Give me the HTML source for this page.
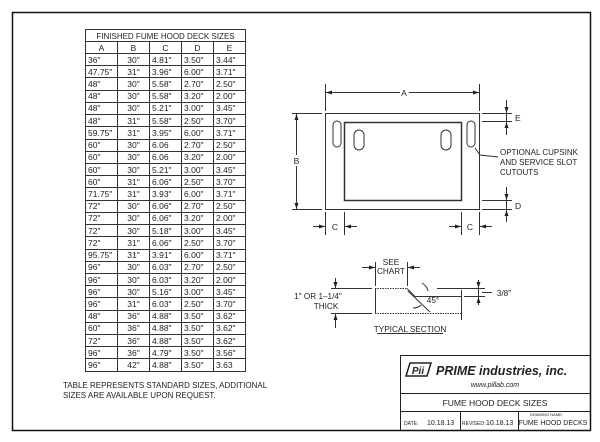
<!DOCTYPE html>
<html><head><style>
body{margin:0;background:#fff}
svg text{font-family:"Liberation Sans",sans-serif;fill:#222}
#t{position:absolute;left:85px;top:41px;border-collapse:collapse;font-family:"Liberation Sans",sans-serif;font-size:8.5px;color:#222;table-layout:fixed;width:161px}
#t td{border:1px solid #333;height:12.23px;padding:0 0 0 2px;line-height:10px;width:31px;overflow:hidden;white-space:nowrap;box-sizing:border-box}
#t td:nth-child(2){text-align:center;padding:0}
#t tr:first-child td{text-align:center;padding:0;height:12px}
</style></head><body>
<svg width="600" height="442" viewBox="0 0 600 442" xmlns="http://www.w3.org/2000/svg" style="position:absolute;left:0;top:0">
<rect x="12.5" y="12.5" width="578" height="418" fill="none" stroke="#111" stroke-width="1.5"/>
<rect x="85.5" y="29.5" width="160" height="342" fill="none" stroke="#333"/>
<text x="165.5" y="39" font-size="8" text-anchor="middle">FINISHED  FUME  HOOD  DECK  SIZES</text>
<g stroke="#333" stroke-width="1" fill="none">
<rect x="325.5" y="113.5" width="154" height="96"/>
<rect x="344.5" y="122.5" width="117" height="78" stroke-width="1.5"/>
<rect x="333" y="121" width="8" height="26" rx="4"/>
<rect x="467" y="121" width="8" height="26" rx="4"/>
<rect x="354" y="130" width="10" height="20" rx="5"/>
<rect x="441" y="130" width="10" height="20" rx="5"/>
<line x1="325.5" y1="84" x2="325.5" y2="111"/><line x1="479.5" y1="84" x2="479.5" y2="111"/>
<line x1="326" y1="92.5" x2="400" y2="92.5"/><line x1="409" y1="92.5" x2="479" y2="92.5"/>
<line x1="292" y1="113.5" x2="322" y2="113.5"/><line x1="292" y1="209.5" x2="322" y2="209.5"/>
<line x1="296.5" y1="114" x2="296.5" y2="155"/><line x1="296.5" y1="166" x2="296.5" y2="209"/>
<line x1="482" y1="113.5" x2="512" y2="113.5"/><line x1="482" y1="121.5" x2="512" y2="121.5"/>
<line x1="506.5" y1="100" x2="506.5" y2="135"/>
<line x1="482" y1="200.5" x2="512" y2="200.5"/><line x1="482" y1="209.5" x2="512" y2="209.5"/>
<line x1="506.5" y1="187" x2="506.5" y2="222"/>
<line x1="325.5" y1="212" x2="325.5" y2="235"/><line x1="344.5" y1="212" x2="344.5" y2="235"/>
<line x1="461.5" y1="212" x2="461.5" y2="235"/><line x1="479.5" y1="212" x2="479.5" y2="235"/>
<line x1="313" y1="226.5" x2="325" y2="226.5"/><line x1="345" y1="226.5" x2="357" y2="226.5"/>
<line x1="449" y1="226.5" x2="461" y2="226.5"/><line x1="480" y1="226.5" x2="492" y2="226.5"/>
<polyline points="475,148 480,155 498,157"/>
</g>
<g fill="#222">
<polygon points="326,92.5 332,90.5 332,94.5"/><polygon points="479,92.5 473,90.5 473,94.5"/>
<polygon points="296.5,114 294.5,120 298.5,120"/><polygon points="296.5,209 294.5,203 298.5,203"/>
<polygon points="506.5,113 504.5,107 508.5,107"/><polygon points="506.5,122 504.5,128 508.5,128"/>
<polygon points="506.5,200 504.5,194 508.5,194"/><polygon points="506.5,210 504.5,216 508.5,216"/>
<polygon points="325,226.5 319,224.5 319,228.5"/><polygon points="345,226.5 351,224.5 351,228.5"/>
<polygon points="461,226.5 455,224.5 455,228.5"/><polygon points="480,226.5 486,224.5 486,228.5"/>
</g>
<g font-size="8.5">
<text x="404" y="96" text-anchor="middle">A</text>
<text x="296.5" y="164" text-anchor="middle">B</text>
<text x="515" y="121">E</text>
<text x="515" y="209">D</text>
<text x="335" y="230" text-anchor="middle">C</text>
<text x="470" y="230" text-anchor="middle">C</text>
<text x="500" y="155" font-size="8">OPTIONAL  CUPSINK</text>
<text x="500" y="165" font-size="8">AND  SERVICE  SLOT</text>
<text x="500" y="175" font-size="8">CUTOUTS</text>
</g>
<g stroke="#333" stroke-width="1" fill="none">
<line x1="375.5" y1="288" x2="375.5" y2="313"/>
<line x1="375" y1="288.5" x2="407" y2="288.5" stroke-dasharray="1.5,1"/>
<line x1="407" y1="288.5" x2="415" y2="296.5"/>
<line x1="415" y1="296.5" x2="462" y2="296.5"/>
<line x1="375" y1="313.5" x2="462" y2="313.5" stroke-dasharray="1.5,1"/>
<line x1="408" y1="291" x2="430" y2="312"/>
<line x1="461.5" y1="290" x2="461.5" y2="320"/>
<line x1="375.5" y1="262" x2="375.5" y2="286"/><line x1="407.5" y1="262" x2="407.5" y2="286"/>
<line x1="362" y1="267.5" x2="375" y2="267.5"/><line x1="408" y1="267.5" x2="420" y2="267.5"/>
<line x1="331" y1="288.5" x2="372" y2="288.5"/><line x1="331" y1="313.5" x2="372" y2="313.5"/>
<line x1="335.5" y1="278" x2="335.5" y2="288"/><line x1="335.5" y1="314" x2="335.5" y2="328"/>
<line x1="437" y1="288.5" x2="485" y2="288.5"/><line x1="464" y1="296.5" x2="485" y2="296.5"/>
<line x1="478.5" y1="280" x2="478.5" y2="305"/><line x1="482" y1="292.5" x2="492" y2="292.5"/>
<path d="M422,283 Q427,286 428,291"/><path d="M413,308 Q418,308 421,305"/>
<line x1="377" y1="333.5" x2="443" y2="333.5"/>
</g>
<g fill="#222">
<polygon points="375,267.5 369,265.5 369,269.5"/><polygon points="408,267.5 414,265.5 414,269.5"/>
<polygon points="335.5,288 333.5,282 337.5,282"/><polygon points="335.5,314 333.5,320 337.5,320"/>
<polygon points="478.5,288 476.5,282 480.5,282"/><polygon points="478.5,297 476.5,303 480.5,303"/>
</g>
<g font-size="8.2" text-anchor="middle">
<text x="391" y="265">SEE</text><text x="391" y="274">CHART</text>
<text x="318" y="299">1"  OR  1–1/4"</text><text x="326" y="309">THICK</text>
<text x="433" y="303">45°</text>
<text x="504" y="296">3/8"</text>
<text x="410" y="332">TYPICAL  SECTION</text>
</g>
<text x="63" y="388" font-size="8">TABLE  REPRESENTS  STANDARD  SIZES,  ADDITIONAL</text>
<text x="63" y="398" font-size="8">SIZES  ARE  AVAILABLE  UPON  REQUEST.</text>
<g stroke="#222" stroke-width="1" fill="none">
<polyline points="400.5,430 400.5,355.5 590,355.5"/>
<line x1="400" y1="393.5" x2="590" y2="393.5"/>
<line x1="400" y1="411.5" x2="590" y2="411.5"/>
<line x1="460.5" y1="411" x2="460.5" y2="430"/>
<line x1="518.5" y1="411" x2="518.5" y2="430"/>
</g>
<polygon points="406,376 410,363 431,363 427,376" fill="#fff" stroke="#222" stroke-width="1.5"/>
<text x="418" y="374" font-size="10" font-weight="bold" font-style="italic" text-anchor="middle">Pii</text>
<text x="436" y="375" font-size="12.5" font-weight="bold" font-style="italic">PRIME industries, inc.</text>
<text x="495" y="387" font-size="7" font-style="italic" text-anchor="middle">www.pillab.com</text>
<text x="495" y="406" font-size="8.5" text-anchor="middle">FUME  HOOD  DECK  SIZES</text>
<text x="404" y="425" font-size="5">DATE:</text>
<text x="427" y="425" font-size="7">10.18.13</text>
<text x="462" y="425" font-size="5">REVISED:</text>
<text x="486" y="425" font-size="7">10.18.13</text>
<text x="530" y="416" font-size="4">DRAWING NAME:</text>
<text x="553" y="425" font-size="7" text-anchor="middle">FUME  HOOD  DECKS</text>
</svg>
<table id="t">
<tr><td>A</td><td>B</td><td>C</td><td>D</td><td>E</td></tr>
<tr><td>36"</td><td>30"</td><td>4.81"</td><td>3.50"</td><td>3.44"</td></tr>
<tr><td>47.75"</td><td>31"</td><td>3.96"</td><td>6.00"</td><td>3.71"</td></tr>
<tr><td>48"</td><td>30"</td><td>5.58"</td><td>2.70"</td><td>2.50"</td></tr>
<tr><td>48"</td><td>30"</td><td>5.58"</td><td>3.20"</td><td>2.00"</td></tr>
<tr><td>48"</td><td>30"</td><td>5.21"</td><td>3.00"</td><td>3.45"</td></tr>
<tr><td>48"</td><td>31"</td><td>5.58"</td><td>2.50"</td><td>3.70"</td></tr>
<tr><td>59.75"</td><td>31"</td><td>3.95"</td><td>6.00"</td><td>3.71"</td></tr>
<tr><td>60"</td><td>30"</td><td>6.06</td><td>2.70"</td><td>2.50"</td></tr>
<tr><td>60"</td><td>30"</td><td>6.06</td><td>3.20"</td><td>2.00"</td></tr>
<tr><td>60"</td><td>30"</td><td>5.21"</td><td>3.00"</td><td>3.45"</td></tr>
<tr><td>60"</td><td>31"</td><td>6.06"</td><td>2.50"</td><td>3.70"</td></tr>
<tr><td>71.75"</td><td>31"</td><td>3.93"</td><td>6.00"</td><td>3.71"</td></tr>
<tr><td>72"</td><td>30"</td><td>6.06"</td><td>2.70"</td><td>2.50"</td></tr>
<tr><td>72"</td><td>30"</td><td>6.06"</td><td>3.20"</td><td>2.00"</td></tr>
<tr><td>72"</td><td>30"</td><td>5.18"</td><td>3.00"</td><td>3.45"</td></tr>
<tr><td>72"</td><td>31"</td><td>6.06"</td><td>2.50"</td><td>3.70"</td></tr>
<tr><td>95.75"</td><td>31"</td><td>3.91"</td><td>6.00"</td><td>3.71"</td></tr>
<tr><td>96"</td><td>30"</td><td>6.03"</td><td>2.70"</td><td>2.50"</td></tr>
<tr><td>96"</td><td>30"</td><td>6.03"</td><td>3.20"</td><td>2.00"</td></tr>
<tr><td>96"</td><td>30"</td><td>5.16"</td><td>3.00"</td><td>3.45"</td></tr>
<tr><td>96"</td><td>31"</td><td>6.03"</td><td>2.50"</td><td>3.70"</td></tr>
<tr><td>48"</td><td>36"</td><td>4.88"</td><td>3.50"</td><td>3.62"</td></tr>
<tr><td>60"</td><td>36"</td><td>4.88"</td><td>3.50"</td><td>3.62"</td></tr>
<tr><td>72"</td><td>36"</td><td>4.88"</td><td>3.50"</td><td>3.62"</td></tr>
<tr><td>96"</td><td>36"</td><td>4.79"</td><td>3.50"</td><td>3.56"</td></tr>
<tr><td>96"</td><td>42"</td><td>4.88"</td><td>3.50"</td><td>3.63</td></tr>
</table>
</body></html>
